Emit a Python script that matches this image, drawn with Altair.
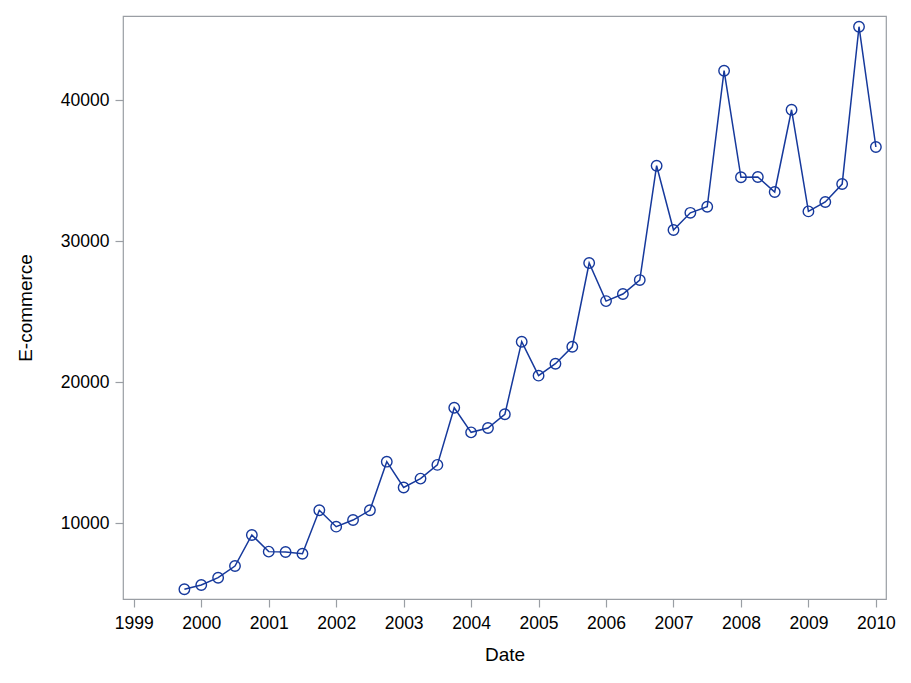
import altair as alt
import pandas as pd

years = [1999.75, 2000.0, 2000.25, 2000.5, 2000.75, 2001.0, 2001.25, 2001.5, 2001.75,
         2002.0, 2002.25, 2002.5, 2002.75, 2003.0, 2003.25, 2003.5, 2003.75,
         2004.0, 2004.25, 2004.5, 2004.75, 2005.0, 2005.25, 2005.5, 2005.75,
         2006.0, 2006.25, 2006.5, 2006.75, 2007.0, 2007.25, 2007.5, 2007.75,
         2008.0, 2008.25, 2008.5, 2008.75, 2009.0, 2009.25, 2009.5, 2009.75, 2010.0]
ecommerce = [5300, 5600, 6120, 6950, 9150, 7970, 7940, 7820, 10900,
             9740, 10210, 10900, 14350, 12520, 13150, 14120, 18170,
             16430, 16740, 17710, 22860, 20450, 21300, 22500, 28440,
             25740, 26240, 27230, 35340, 30780, 32000, 32430, 42080,
             34520, 34540, 33480, 39310, 32100, 32770, 34040, 45200, 36670]
x_ticks = list(range(1999, 2011))
y_ticks = [10000, 20000, 30000, 40000]

df = pd.DataFrame({"Date": years, "E-commerce": ecommerce})

color = "#16399c"
font = "Liberation Sans"

x = alt.X("Date:Q",
          scale=alt.Scale(domain=[1998.84, 2010.15], nice=False, zero=False),
          axis=alt.Axis(values=x_ticks, format="d", title="Date", grid=False))
y = alt.Y("E-commerce:Q",
          scale=alt.Scale(domain=[4610, 45960], nice=False, zero=False),
          axis=alt.Axis(values=y_ticks, format="d", title="E-commerce", grid=False))

line = alt.Chart(df).mark_line(color=color, strokeWidth=1.5).encode(x=x, y=y)
pts = alt.Chart(df).mark_point(shape="circle", filled=False, color=color,
                               size=110, strokeWidth=1.4, opacity=1).encode(x=x, y=y)

chart = (line + pts).properties(
    width=763, height=583,
    autosize=alt.AutoSizeParams(type="none"),
    padding={"left": 115, "top": 8, "right": 17, "bottom": 76},
).configure_view(
    stroke="#9a9ea4", strokeWidth=1.2
).configure_axis(
    domain=False,
    tickColor="#9a9ea4", tickSize=8, tickWidth=1.2,
    labelFont=font, labelFontSize=17.5, labelColor="#000000", labelPadding=6,
    titleFont=font, titleFontSize=19, titleColor="#000000", titleFontWeight="normal",
).configure_axisX(
    labelPadding=7, titlePadding=14,
).configure_axisY(
    titlePadding=25,
)

chart.save("out.html", embed_options={"renderer": "svg", "actions": False})
